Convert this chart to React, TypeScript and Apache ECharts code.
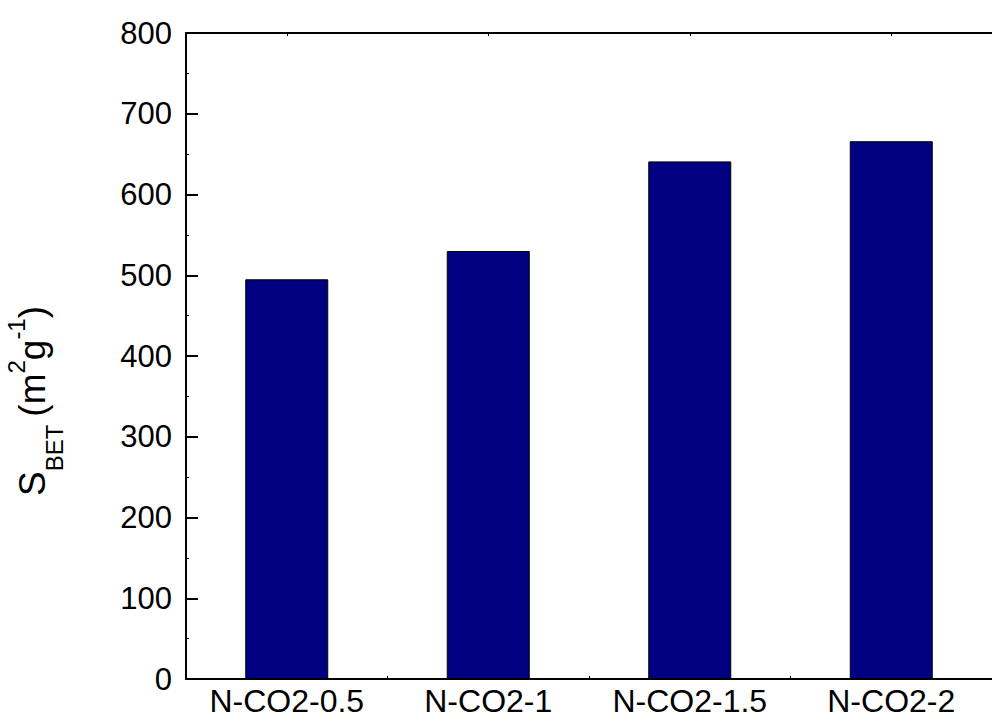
import React, { useEffect, useRef } from "react";
import * as echarts from "echarts";

const categories = ["N-CO2-0.5", "N-CO2-1", "N-CO2-1.5", "N-CO2-2"];
const sbetValues = [495, 530, 641, 666];
const yTicks = [0, 100, 200, 300, 400, 500, 600, 700, 800];

const FONT = '"Liberation Sans", Arial, sans-serif';

function measure(text: string, size: number): number {
  const c = document.createElement("canvas").getContext("2d");
  if (!c) return text.length * size * 0.55;
  c.font = `${size}px ${FONT}`;
  return c.measureText(text).width;
}

export default function App() {
  const ref = useRef<HTMLDivElement>(null);

  useEffect(() => {
    document.body.style.margin = "0";
    if (!ref.current) return;
    const chart = echarts.init(ref.current, null, { renderer: "svg" });

    // Y-axis title built from parts: S_BET (m^2 g^-1)
    const main = 37;
    const small = 24;
    const parts: { t: string; size: number; kind: "main" | "sub" | "sup"; gap?: number }[] = [
      { t: "S", size: main, kind: "main" },
      { t: "BET", size: small, kind: "sub", gap: 8 },
      { t: "(m", size: main, kind: "main" },
      { t: "2", size: small, kind: "sup" },
      { t: "g", size: main, kind: "main" },
      { t: "-1", size: small, kind: "sup" },
      { t: ")", size: main, kind: "main" },
    ];
    const centers = { main: 32.2, sub: 54.7, sup: 16.7 };
    let lx = 0;
    const children: any[] = [];
    parts.forEach((p) => {
      children.push({
        type: "text",
        x: lx,
        y: centers[p.kind],
        style: {
          text: p.t,
          font: `${p.size}px ${FONT}`,
          fill: "#000",
          align: "left",
          verticalAlign: "middle",
        },
      });
      lx += measure(p.t, p.size) + (p.gap || 0);
    });
    const totalLen = lx;
    const centerY = 401;

    chart.setOption({
      animation: false,
      backgroundColor: "#fff",
      grid: { left: 186, top: 33, width: 817, height: 646, containLabel: false },
      xAxis: [
        {
          type: "category",
          data: categories,
          position: "bottom",
          boundaryGap: true,
          axisLine: { show: true, lineStyle: { color: "#000", width: 2 } },
          axisTick: { show: true, inside: true, length: 3, lineStyle: { color: "#000", width: 1 } },
          axisLabel: { color: "#000", fontSize: 32, fontFamily: FONT, margin: 6 },
          splitLine: { show: false },
        },
        {
          type: "category",
          data: categories,
          position: "top",
          boundaryGap: true,
          axisLine: { show: true, onZero: false, lineStyle: { color: "#000", width: 2 } },
          axisTick: { show: true, inside: true, length: 3, alignWithLabel: true, lineStyle: { color: "#000", width: 1 } },
          axisLabel: { show: false },
          splitLine: { show: false },
        },
      ],
      yAxis: {
        type: "value",
        min: yTicks[0],
        max: yTicks[yTicks.length - 1],
        interval: 100,
        axisLine: { show: true, lineStyle: { color: "#000", width: 2 } },
        axisTick: { show: true, inside: true, length: 12, lineStyle: { color: "#000", width: 2 } },
        minorTick: { show: true, splitNumber: 2, length: 3, lineStyle: { color: "#000", width: 1 } },
        axisLabel: { color: "#000", fontSize: 31, fontFamily: FONT, margin: 14 },
        splitLine: { show: false },
      },
      series: [
        {
          type: "bar",
          data: sbetValues,
          barWidth: 83,
          itemStyle: { color: "#000080", borderColor: "#000", borderWidth: 1 },
        },
      ],
      graphic: [
        {
          type: "group",
          x: 0,
          y: centerY + totalLen / 2,
          rotation: Math.PI / 2,
          children,
        },
      ],
    });

    return () => chart.dispose();
  }, []);

  return <div ref={ref} style={{ width: 992, height: 722 }} />;
}
